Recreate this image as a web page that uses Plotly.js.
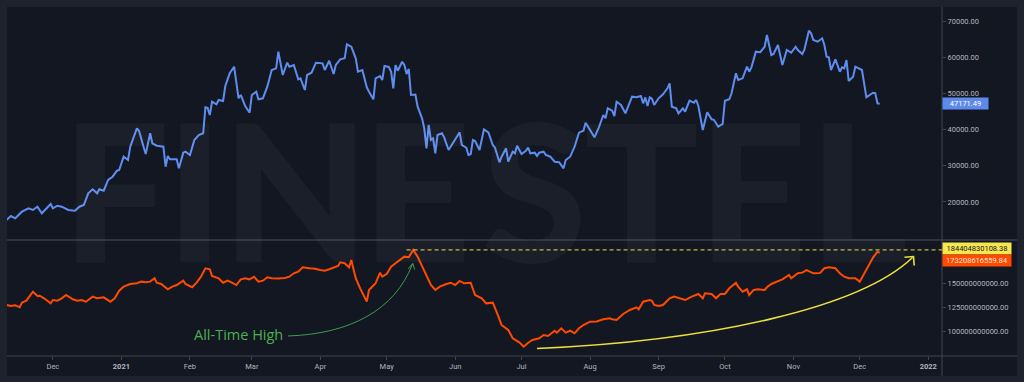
<!DOCTYPE html>
<html><head><meta charset="utf-8">
<script src="https://cdn.plot.ly/plotly-3.0.1.min.js"></script>
<style>html,body{margin:0;padding:0;background:#1e222d;overflow:hidden}#chart{width:1024px;height:382px}</style>
</head><body><div id="chart"></div>
<script>
// ---- data ----
const startDate = '2020-11-10';
// days after startDate
const btcDay = [
0,2,4,7,10,12,14,16,20,21,
23,25,28,31,33,35,37,39,41,42,
44,46,48,50,51,53,55,56,59,60,
62,63,65,66,68,71,72,73,74,77,
78,80,81,83,85,87,89,90,91,92,
93,95,96,98,99,101,103,105,106,108,
110,111,113,114,116,118,120,122,123,125,
127,128,130,132,133,135,136,138,140,143,
144,146,148,149,151,153,154,156,158,159,
161,163,164,166,167,169,170,171,173,174,
175,176,177,179,180,181,182,183,185,186,
188,189,190,191,192,193,194,195,197,198,
200,202,203,205,206,208,209,210,211,212,
214,216,218,220,221,223,224,226,227,229,
230,231,233,235,236,237,239,240,241,243,
244,246,248,250,252,253,255,257,259,261,
262,264,266,268,270,271,272,274,275,276,
278,280,283,285,287,288,289,290,291,292,
293,295,297,299,300,301,303,304,306,307,
309,311,312,313,315,317,319,320,322,324,
325,327,328,330,331,333,335,336,337,339,
341,343,344,346,347,349,351,353,355,357,
358,360,361,363,364,365,367,369,370,371,
372,373,375,377,378,379,380,381,383,384,
386,387,389,392,393,394,395];
const btcPrice = [
15030,16130,15500,17320,18260,17790,18700,16880,19450,18260,
18980,18700,17790,17600,18700,19170,22400,23510,22400,23510,
23120,26080,26990,28650,28840,32510,31600,35280,40360,39610,
35280,33260,38980,36220,35550,35280,29750,32710,31800,31800,
29310,33620,33900,32980,37130,38510,38980,46160,46000,44030,
47710,46990,48180,47900,52040,55550,57380,48650,49560,46520,
44670,49560,50470,48370,48650,51850,56460,56930,61520,55080,
58480,57380,57850,53900,54170,50940,55080,55720,58480,58300,
56460,59030,55360,57850,59420,59700,63560,62900,59700,55990,
56460,51690,50470,48370,54170,54810,53700,57570,57300,55990,
51410,57850,56270,58760,57850,55360,56740,49560,49700,46330,
43120,40360,34830,41270,37130,37600,33450,38510,38980,37870,
34370,36220,37130,39250,35750,35000,32980,33180,37130,36850,
34370,40080,39250,35750,35000,30970,32510,34830,31130,33900,
33450,35550,33260,34170,35000,33450,33620,32710,33620,33900,
32980,32510,31130,31000,29310,31600,32510,35280,39140,39700,
41910,39890,37870,40640,44030,43120,45880,45220,43760,47710,
46800,44500,49090,48920,49280,47270,48900,46520,48920,48540,
46800,48650,49750,51410,52790,46330,45880,44500,45880,44950,
47980,47430,48180,46520,39890,44780,42850,42700,40800,41550,
47980,48370,50030,55550,53700,54170,57380,55990,57200,61520,
61400,62900,66130,60610,60880,63370,57850,61990,61240,62900,
61990,60880,62180,67320,66600,64750,64280,65220,63370,60140,
59970,56460,59420,55990,57210,56930,59230,53430,54610,57380,
56660,56460,48920,50190,50100,47270,47171.49];
const netDay = [
0,2,4,6,7,9,12,14,15,17,
20,21,23,25,27,28,30,32,34,36,
39,41,44,47,49,51,53,56,59,61,
63,65,67,68,70,73,75,77,80,81,
84,86,88,90,92,93,96,98,100,102,
104,106,108,110,112,114,116,118,120,123,
126,128,130,132,134,137,139,142,144,146,
148,150,151,153,155,156,157,158,160,163,
164,167,169,170,172,174,176,178,180,182,
184,186,188,190,192,194,196,199,201,203,
205,207,210,212,215,217,220,222,224,227,
229,232,234,236,238,241,243,245,248,249,
251,253,255,257,259,261,264,267,270,273,
274,276,279,282,285,286,288,291,292,293,
295,297,300,302,305,307,310,313,315,316,
319,321,323,325,327,330,331,333,335,336,
338,340,343,344,346,349,351,354,355,358,
360,362,365,368,370,372,375,377,379,381,
384,386,388,390,392,394,395];
const netValue = [
127.6e9,126.5e9,127.3e9,125.2e9,130.0e9,132.0e9,141.3e9,136.9e9,137.2e9,134.5e9,
129.3e9,132.7e9,132.0e9,134.5e9,137.9e9,136.2e9,133.5e9,132.0e9,132.7e9,131.0e9,
136.2e9,134.5e9,135.5e9,131.0e9,134.5e9,142.4e9,146.5e9,149.3e9,150.0e9,151.7e9,
151.0e9,151.7e9,155.2e9,150.6e9,149.3e9,143.8e9,146.5e9,148.2e9,152.7e9,149.3e9,
145.9e9,150.6e9,156.8e9,165.5e9,164.5e9,157.5e9,155.2e9,150.6e9,152.7e9,150.6e9,
148.2e9,154.1e9,155.2e9,154.1e9,156.8e9,151.7e9,152.7e9,156.2e9,155.2e9,155.0e9,
155.4e9,156.8e9,160.3e9,162.0e9,166.5e9,165.5e9,165.3e9,163.7e9,163.0e9,164.5e9,
166.5e9,167.9e9,171.7e9,170.7e9,166.5e9,174.1e9,164.5e9,155.2e9,144.8e9,131.0e9,
143.1e9,150.0e9,161.0e9,156.8e9,159.6e9,167.1e9,170.7e9,174.1e9,177.5e9,176.9e9,
184404830108.38,177.5e9,167.1e9,156.8e9,148.2e9,143.1e9,146.5e9,149.3e9,150.6e9,148.2e9,
152.4e9,150.0e9,150.6e9,137.9e9,134.5e9,129.3e9,130.0e9,119.0e9,106.9e9,101.8e9,
93.2e9,89.0e9,84.5e9,88.6e9,91.4e9,93.2e9,96.6e9,95.6e9,101.0e9,99.0e9,
103.5e9,99.0e9,101.0e9,98.3e9,103.5e9,106.9e9,110.3e9,110.5e9,112.8e9,113.8e9,
112.8e9,112.1e9,118.3e9,122.4e9,125.2e9,123.1e9,131.0e9,132.7e9,132.0e9,127.6e9,
126.5e9,127.6e9,134.5e9,136.2e9,134.5e9,132.7e9,136.2e9,138.9e9,134.5e9,139.7e9,
138.9e9,134.5e9,138.9e9,139.0e9,144.8e9,150.6e9,146.5e9,141.3e9,143.8e9,137.9e9,
143.1e9,143.8e9,143.1e9,145.9e9,149.3e9,151.7e9,154.1e9,158.6e9,155.2e9,160.3e9,
161.0e9,163.7e9,160.3e9,160.5e9,165.5e9,166.5e9,165.5e9,160.3e9,156.8e9,155.2e9,
155.2e9,151.7e9,160.3e9,168.9e9,176.5e9,182.6e9,181.5e9];
const athValue = 184404830108.38;
const netLastLabel = 173208616559.84;
const athLineStart = '2021-05-10';
const monthTicks = ['2020-12-01','2021-01-01','2021-02-01','2021-03-01','2021-04-01','2021-05-01','2021-06-01','2021-07-01','2021-08-01','2021-09-01','2021-10-01','2021-11-01','2021-12-01','2022-01-01'];
const monthLabels = ['Dec','<b>2021</b>','Feb','Mar','Apr','May','Jun','Jul','Aug','Sep','Oct','Nov','Dec','<b>2022</b>'];
const btcTicks = [20000,30000,40000,50000,60000,70000];
const netTicks = [100e9,125e9,150e9];
const watermarkText = 'FINESTEL';
const athNote = 'All-Time High';

// ---- helpers ----
const t0 = Date.parse(startDate + 'T00:00:00Z');
const toDate = d => new Date(t0 + d * 864e5).toISOString().slice(0, 10);
const btcDates = btcDay.map(toDate);
const netDates = netDay.map(toDate);

// plot box in pixels (for decorative drawings)
const PL = 7, PW = 935, PT = 7, PH = 349;
const px = x => (x - PL) / PW;
const py = y => (PT + PH - y) / PH;
const P = (x, y) => px(x).toFixed(5) + ',' + py(y).toFixed(5);

const tickFont = {family: 'Roboto, sans-serif', size: 7.5, color: '#b2b5be'};
const split = py(240);
const grey = '#434651';

const traces = [
  {x: btcDates, y: btcPrice, type: 'scatter', mode: 'lines', xaxis: 'x', yaxis: 'y',
   line: {color: '#5f8def', width: 2}, hoverinfo: 'skip'},
  {x: netDates, y: netValue, type: 'scatter', mode: 'lines', xaxis: 'x', yaxis: 'y2',
   line: {color: '#ff4a00', width: 2}, hoverinfo: 'skip'}
];

// watermark letters, one box per letter (centre x in pixels)
const wmCentres = [116, 195, 295, 416, 534, 641, 752, 858];
const wmAnnotations = watermarkText.split('').map((ch, i) => ({
  text: ch, xref: 'paper', yref: 'paper', x: px(wmCentres[i]), y: py(188),
  xanchor: 'center', yanchor: 'middle', showarrow: false,
  font: {family: 'Lato, Inter, Roboto, sans-serif', size: 190, weight: 900, color: 'rgba(255,255,255,0.035)'}
}));

const layout = {
  width: 1024, height: 382,
  margin: {l: PL, r: 1024 - PL - PW, t: PT, b: 382 - PT - PH, pad: 0},
  paper_bgcolor: '#1e222d', plot_bgcolor: '#131722',
  showlegend: false,
  xaxis: {type: 'date', anchor: 'y2', domain: [0, 1],
    range: ['2020-11-10 06:00', '2022-01-07 05:00'],
    tickmode: 'array', tickvals: monthTicks, ticktext: monthLabels,
    ticks: 'outside', ticklen: 3, tickcolor: grey, tickfont: tickFont,
    showgrid: false, zeroline: false, showline: false, fixedrange: true},
  yaxis: {domain: [split, 1], anchor: 'x', side: 'right', range: [9500, 73870],
    tickmode: 'array', tickvals: btcTicks, tickformat: '.2f',
    ticks: 'outside', ticklen: 3, tickcolor: grey, tickfont: tickFont,
    showgrid: false, zeroline: false, showline: false, fixedrange: true},
  yaxis2: {domain: [0, split], anchor: 'x', side: 'right', range: [74.9e9, 194.7e9],
    tickmode: 'array', tickvals: netTicks, tickformat: '.2f',
    ticks: 'outside', ticklen: 3, tickcolor: grey, tickfont: tickFont,
    showgrid: false, zeroline: false, showline: false, fixedrange: true},
  shapes: [
    {type: 'rect', xref: 'paper', yref: 'paper', x0: 0, x1: px(1017), y0: py(376), y1: 1,
     fillcolor: '#131722', line: {width: 0}, layer: 'below'},
    {type: 'line', xref: 'paper', yref: 'paper', x0: 0, x1: px(1017), y0: split, y1: split,
     line: {color: '#4e515b', width: 1.2}},
    {type: 'line', xref: 'paper', yref: 'paper', x0: 0, x1: px(1017), y0: 0, y1: 0,
     line: {color: grey, width: 1}},
    {type: 'line', xref: 'paper', yref: 'paper', x0: 1, x1: 1, y0: py(376), y1: 1,
     line: {color: grey, width: 1}},
    {type: 'line', xref: 'x', yref: 'y2', x0: athLineStart, x1: '2022-01-07 05:00', y0: athValue, y1: athValue,
     line: {color: '#c9b63c', width: 1.2, dash: '4px,3px'}},
    // green curved arrow
    {type: 'path', xref: 'paper', yref: 'paper',
     path: 'M' + P(288, 336) + ' C' + P(350, 334) + ' ' + P(395, 310) + ' ' + P(412.5, 264),
     line: {color: '#3f9c4a', width: 1}},
    {type: 'path', xref: 'paper', yref: 'paper',
     path: 'M' + P(408.3, 268.8) + ' L' + P(412.8, 263.2) + ' L' + P(414.6, 269.6),
     line: {color: '#3f9c4a', width: 1}},
    // yellow curved arrow
    {type: 'path', xref: 'paper', yref: 'paper',
     path: 'M' + P(537, 348.5) + ' C' + P(710, 341) + ' ' + P(860, 308) + ' ' + P(912.5, 257.5),
     line: {color: '#ece03c', width: 1.6}},
    {type: 'path', xref: 'paper', yref: 'paper',
     path: 'M' + P(904.5, 257.3) + ' L' + P(913.5, 256.5) + ' L' + P(914.2, 265.5),
     line: {color: '#ece03c', width: 1.6}}
  ],
  annotations: wmAnnotations.concat([
    {text: athNote, xref: 'paper', yref: 'paper', x: px(238), y: py(334), xanchor: 'center', yanchor: 'middle',
     showarrow: false, font: {family: '"Open Sans", sans-serif', size: 14.5, color: '#4caf50'}},
    {text: btcPrice[btcPrice.length - 1].toFixed(2), xref: 'paper', yref: 'y', x: 1, y: btcPrice[btcPrice.length - 1],
     xanchor: 'left', yanchor: 'middle', showarrow: false, bgcolor: '#5d89ea', borderpad: 1, width: 43, height: 9,
     font: {family: 'Roboto, sans-serif', size: 7.5, color: '#ffffff'}},
    {text: athValue.toFixed(2), xref: 'paper', yref: 'y2', x: 1, y: athValue, yshift: 1.5,
     xanchor: 'left', yanchor: 'middle', showarrow: false, bgcolor: '#f7e64e', borderpad: 1, width: 66, height: 9,
     font: {family: 'Roboto, sans-serif', size: 7.5, color: '#131722'}},
    {text: netLastLabel.toFixed(2), xref: 'paper', yref: 'y2', x: 1, y: netLastLabel,
     xanchor: 'left', yanchor: 'middle', showarrow: false, bgcolor: '#ff4a00', borderpad: 1, width: 66, height: 9,
     font: {family: 'Roboto, sans-serif', size: 7.5, color: '#fde6dc'}}
  ])
};

Plotly.newPlot('chart', traces, layout, {staticPlot: true, displayModeBar: false});
</script>
</body></html>
